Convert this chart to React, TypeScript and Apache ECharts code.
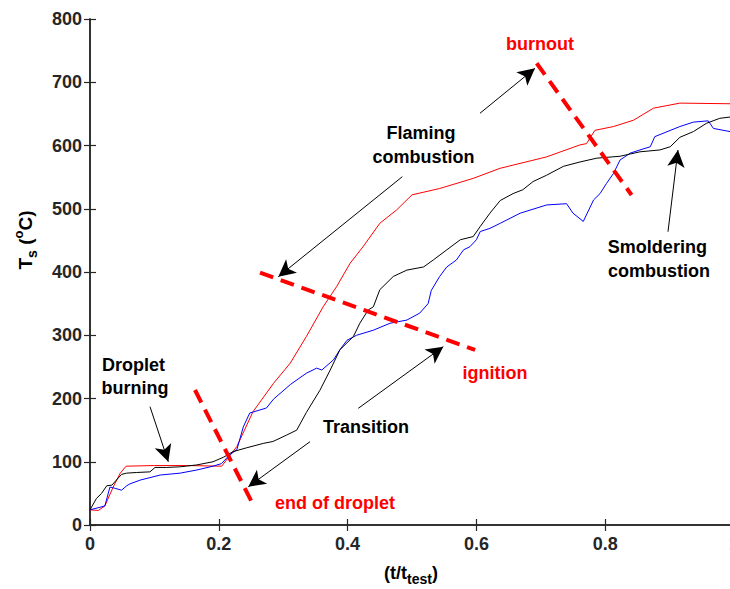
import React, { useEffect, useRef } from 'react';
import * as echarts from 'echarts';

const FONT = '"Liberation Sans", Arial, Helvetica, sans-serif';
const AXIS_COLOR = '#262626';

// axis ranges / ticks
const X_MIN = 0;
const X_MAX = 1;
const X_STEP = 0.2;
const Y_MIN = 0;
const Y_MAX = 800;
const Y_STEP = 100;

// series values: [t/t_test, Ts (°C)]
const redSeries: number[][] = [
  [0, 24], [0.013, 23], [0.023, 30], [0.036, 60], [0.047, 82], [0.056, 93],
  [0.1, 94], [0.15, 94], [0.2045, 93], [0.228, 124], [0.253, 179], [0.285, 224],
  [0.311, 256], [0.336, 298], [0.362, 345], [0.383, 377], [0.404, 414], [0.424, 440],
  [0.45, 477], [0.476, 498], [0.5, 522], [0.543, 532], [0.595, 548], [0.637, 564],
  [0.657, 569], [0.709, 582], [0.761, 601], [0.771, 603], [0.784, 624], [0.813, 630],
  [0.844, 640], [0.875, 659], [0.916, 667], [0.994, 666], [1.0, 666],
];

const blueSeries: number[][] = [
  [0, 24], [0.023, 30], [0.031, 60], [0.039, 58], [0.049, 55], [0.057, 62],
  [0.062, 65], [0.078, 71], [0.109, 79], [0.14, 82], [0.166, 87], [0.191, 93],
  [0.204, 97], [0.217, 111], [0.228, 119], [0.233, 137], [0.238, 155], [0.248, 177],
  [0.261, 181], [0.274, 185], [0.285, 199], [0.311, 222], [0.336, 240], [0.352, 248],
  [0.36, 245], [0.378, 261], [0.388, 277], [0.399, 292], [0.414, 300], [0.44, 308],
  [0.466, 319], [0.492, 324], [0.512, 335], [0.525, 350], [0.53, 371], [0.543, 393],
  [0.554, 408], [0.569, 419], [0.58, 435], [0.59, 440], [0.6, 451], [0.606, 464],
  [0.621, 469], [0.637, 477], [0.668, 493], [0.709, 506], [0.74, 508], [0.75, 493],
  [0.766, 480], [0.782, 514], [0.792, 524], [0.802, 540], [0.813, 556], [0.823, 577],
  [0.839, 588], [0.854, 593], [0.87, 598], [0.877, 614], [0.916, 630], [0.937, 637],
  [0.96, 639], [0.968, 627], [0.994, 622], [1.0, 621],
];

const blackSeries: number[][] = [
  [0, 24], [0.01, 42], [0.018, 50], [0.026, 62], [0.034, 63], [0.041, 71],
  [0.049, 80], [0.057, 82], [0.072, 83], [0.093, 84], [0.101, 91], [0.119, 91],
  [0.14, 92], [0.166, 95], [0.191, 100], [0.207, 107], [0.222, 116], [0.243, 122],
  [0.269, 129], [0.284, 132], [0.305, 142], [0.321, 150], [0.336, 178], [0.357, 213],
  [0.373, 245], [0.388, 277], [0.409, 298], [0.419, 319], [0.432, 340], [0.44, 345],
  [0.45, 372], [0.471, 393], [0.492, 403], [0.518, 408], [0.533, 419], [0.554, 435],
  [0.575, 451], [0.595, 456], [0.606, 472], [0.621, 493], [0.637, 513], [0.657, 524],
  [0.672, 530], [0.688, 543], [0.709, 553], [0.735, 567], [0.761, 574], [0.787, 580],
  [0.823, 583], [0.854, 590], [0.885, 593], [0.901, 598], [0.916, 613], [0.937, 622],
  [0.957, 635], [0.978, 643], [0.994, 645], [1.0, 645],
];

// annotations, in data coordinates
const dashedLines: number[][][] = [
  [[0.6936, 730], [0.841, 521.7]],
  [[0.264, 399], [0.598, 276.7]],
  [[0.163, 213.4], [0.251, 36.8]],
];

const arrowLines: number[][][] = [
  [[0.6056, 651], [0.691, 722]],
  [[0.485, 550.7], [0.2924, 392.6]],
  [[0.4166, 184.5], [0.5486, 282]],
  [[0.3416, 131.7], [0.2458, 60.5]],
  [[0.0932, 187], [0.1216, 100]],
  [[0.8975, 463.7], [0.913, 592.9]],
];

const annotationTexts: { text: string; at: number[]; color: string }[] = [
  { text: 'burnout', at: [0.6988, 760.5], color: '#ff0000' },
  { text: 'Flaming', at: [0.514, 619.8], color: '#000000' },
  { text: 'combustion', at: [0.518, 581.8], color: '#000000' },
  { text: 'ignition', at: [0.629, 240.3], color: '#ff0000' },
  { text: 'Transition', at: [0.4286, 155], color: '#000000' },
  { text: 'end of droplet', at: [0.3804, 34.8], color: '#ff0000' },
  { text: 'Droplet', at: [0.0676, 253], color: '#000000' },
  { text: 'burning', at: [0.0699, 216.6], color: '#000000' },
  { text: 'Smoldering', at: [0.881, 439.5], color: '#000000' },
  { text: 'combustion', at: [0.8835, 400.8], color: '#000000' },
];

const tickFmt = (v: number) => String(Math.round(v * 10) / 10);

export default function App() {
  const ref = useRef<HTMLDivElement>(null);

  useEffect(() => {
    document.body.style.margin = '0';
    if (!ref.current) return;
    const chart = echarts.init(ref.current, null, { renderer: 'svg', width: 730, height: 589 });

    const axisLine = { show: true, lineStyle: { color: AXIS_COLOR, width: 1.5 } };
    const axisTick = { show: true, inside: true, length: 6, lineStyle: { color: AXIS_COLOR, width: 1.2 } };
    const labelStyle = { fontSize: 18, fontWeight: 'bold' as const, fontFamily: FONT, color: AXIS_COLOR };

    const mkLine = (color: string) => ({
      type: 'line' as const,
      showSymbol: false,
      symbol: 'none',
      lineStyle: { width: 1, color },
      itemStyle: { color },
      emphasis: { disabled: true },
    });

    const option: any = {
      animation: false,
      backgroundColor: '#ffffff',
      grid: {
        left: 90, top: 19, width: 644, height: 506,
        containLabel: false, outerBoundsMode: 'none',
      },
      xAxis: [
        {
          type: 'value', min: X_MIN, max: X_MAX, interval: X_STEP, position: 'bottom',
          axisLine, axisTick, splitLine: { show: false },
          axisLabel: { ...labelStyle, margin: 10, formatter: tickFmt },
        },
        {
          type: 'value', min: X_MIN, max: X_MAX, interval: X_STEP, position: 'top',
          axisLine, axisTick, splitLine: { show: false }, axisLabel: { show: false },
        },
      ],
      yAxis: [
        {
          type: 'value', min: Y_MIN, max: Y_MAX, interval: Y_STEP, position: 'left',
          axisLine, axisTick, splitLine: { show: false },
          axisLabel: { ...labelStyle, margin: 8 },
        },
        {
          type: 'value', min: Y_MIN, max: Y_MAX, interval: Y_STEP, position: 'right',
          axisLine, axisTick, splitLine: { show: false }, axisLabel: { show: false },
        },
      ],
      series: [
        { ...mkLine('#ff0000'), name: 'red', data: redSeries, z: 2 },
        { ...mkLine('#0000ff'), name: 'blue', data: blueSeries, z: 3 },
        {
          ...mkLine('#000000'), name: 'black', data: blackSeries, z: 4,
          markLine: {
            silent: true,
            animation: false,
            label: { show: false },
            emphasis: { disabled: true },
            data: [
              ...dashedLines.map((l) => [
                { coord: l[0], symbol: 'none', lineStyle: { color: '#ff0000', width: 4, type: [14, 8] } },
                { coord: l[1], symbol: 'none' },
              ]),
              ...arrowLines.map((l) => [
                { coord: l[0], symbol: 'none', lineStyle: { color: '#000000', width: 1, type: 'solid' } },
                { coord: l[1], symbol: 'arrow', symbolSize: [13, 17] },
              ]),
            ],
          },
          markPoint: {
            silent: true,
            animation: false,
            symbol: 'circle',
            symbolSize: 0,
            itemStyle: { color: 'transparent' },
            data: annotationTexts.map((a) => ({
              coord: a.at,
              value: 0,
              label: {
                show: true,
                position: 'inside',
                formatter: a.text,
                color: a.color,
                fontSize: 18,
                fontWeight: 'bold',
                fontFamily: FONT,
              },
            })),
          },
        },
      ],
      graphic: [
        {
          type: 'text',
          x: 411,
          y: 573,
          silent: true,
          style: {
            text: '{a|(t/t}{s|test}{a|)}',
            align: 'center',
            verticalAlign: 'middle',
            rich: {
              a: { fontSize: 18, fontWeight: 'bold', fontFamily: FONT, color: AXIS_COLOR },
              s: { fontSize: 14, fontWeight: 'bold', fontFamily: FONT, color: AXIS_COLOR, padding: [12, 0, 0, 0] },
            },
          },
        },
        {
          type: 'text',
          x: 25,
          y: 240,
          rotation: Math.PI / 2,
          silent: true,
          style: {
            text: '{a|T}{s|s}{a| (}{p|o}{a|C)}',
            align: 'center',
            verticalAlign: 'middle',
            rich: {
              a: { fontSize: 19, fontWeight: 'bold', fontFamily: FONT, color: AXIS_COLOR },
              s: { fontSize: 14, fontWeight: 'bold', fontFamily: FONT, color: AXIS_COLOR, padding: [14, 0, 0, 0] },
              p: { fontSize: 13, fontWeight: 'bold', fontFamily: FONT, color: AXIS_COLOR, padding: [0, 0, 14, 0] },
            },
          },
        },
      ],
    };

    chart.setOption(option);
    return () => chart.dispose();
  }, []);

  return (
    <div
      ref={ref}
      style={{ position: 'fixed', left: 0, top: 0, width: 730, height: 589, background: '#fff' }}
    />
  );
}
